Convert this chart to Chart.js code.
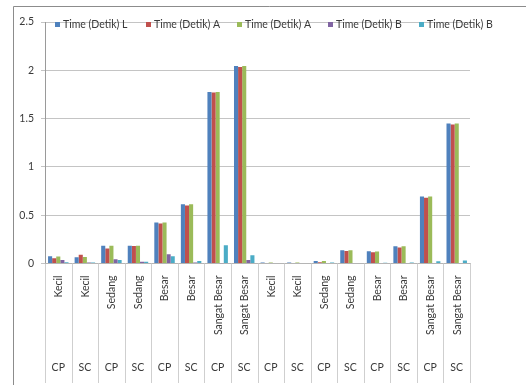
<!DOCTYPE html>
<html>
<head>
<meta charset="utf-8">
<script src="https://cdn.jsdelivr.net/npm/chart.js@4/dist/chart.umd.min.js"></script>
<style>
  html, body { margin: 0; padding: 0; background: #fff; }
  #wrap { width: 526px; height: 385px; }
</style>
</head>
<body>
<div id="wrap"><canvas id="c" width="526" height="385"></canvas></div>
<script>
// Size classes (first label level) and method (second label level)
const categories = ['Kecil', 'Kecil', 'Sedang', 'Sedang', 'Besar', 'Besar', 'Sangat Besar', 'Sangat Besar',
                    'Kecil', 'Kecil', 'Sedang', 'Sedang', 'Besar', 'Besar', 'Sangat Besar', 'Sangat Besar'];
const groups = ['CP', 'SC', 'CP', 'SC', 'CP', 'SC', 'CP', 'SC', 'CP', 'SC', 'CP', 'SC', 'CP', 'SC', 'CP', 'SC'];

const seriesNames = ['Time (Detik) L', 'Time (Detik) A', 'Time (Detik) A', 'Time (Detik) B', 'Time (Detik) B'];

const timeL  = [0.075, 0.065, 0.185, 0.185, 0.425, 0.613, 1.775, 2.045, 0.01, 0.01, 0.027, 0.137, 0.127, 0.179, 0.693, 1.448];
const timeA1 = [0.055, 0.09, 0.155, 0.18, 0.415, 0.60, 1.77, 2.035, 0.0, 0.0, 0.013, 0.13, 0.117, 0.166, 0.68, 1.44];
const timeA2 = [0.072, 0.068, 0.185, 0.185, 0.425, 0.613, 1.775, 2.045, 0.01, 0.01, 0.027, 0.137, 0.125, 0.179, 0.693, 1.448];
const timeB1 = [0.035, 0.01, 0.045, 0.018, 0.095, 0.01, 0.003, 0.035, 0, 0, 0, 0, 0, 0, 0, 0];
const timeB2 = [0.012, 0.01, 0.035, 0.018, 0.075, 0.025, 0.19, 0.085, 0, 0, 0.01, 0.005, 0.008, 0.01, 0.024, 0.03];

const yTicks = [0, 0.5, 1, 1.5, 2, 2.5];

const colors = ['#4F81BD', '#C0504D', '#9BBB59', '#8064A2', '#4BACC6'];
const FONT = 'Lato, "Open Sans", sans-serif';
const TEXT = '#3a3a3a';

const extras = {
  id: 'extras',
  beforeDraw(chart) {
    const ctx = chart.ctx;
    ctx.save();
    ctx.fillStyle = '#fff';
    ctx.fillRect(0, 0, chart.width, chart.height);
    ctx.restore();
  },
  afterDraw(chart) {
    const { ctx, chartArea, scales: { x } } = chart;
    const n = categories.length;
    const w = x.getPixelForValue(1) - x.getPixelForValue(0);
    ctx.save();

    // category separators running down through both label rows
    ctx.strokeStyle = '#cfcfcf';
    ctx.lineWidth = 1;
    for (let i = 0; i <= n; i++) {
      const px = Math.round(x.getPixelForValue(0) - w / 2 + i * w) + 0.5;
      ctx.beginPath();
      ctx.moveTo(px, chartArea.bottom);
      ctx.lineTo(px, 383);
      ctx.stroke();
    }

    // first level: rotated size labels
    ctx.fillStyle = TEXT;
    ctx.font = '10.5px ' + FONT;
    for (let i = 0; i < n; i++) {
      const cx = x.getPixelForValue(i);
      ctx.save();
      ctx.translate(cx + 0.5, chartArea.bottom + 12);
      ctx.rotate(-Math.PI / 2);
      ctx.textAlign = 'right';
      ctx.textBaseline = 'middle';
      ctx.fillText(categories[i], 0, 0);
      ctx.restore();
    }

    // second level: method labels
    ctx.textAlign = 'center';
    ctx.textBaseline = 'middle';
    for (let i = 0; i < n; i++) {
      ctx.fillText(groups[i], x.getPixelForValue(i), 368);
    }

    // legend row across the top of the plot
    ctx.textAlign = 'left';
    chart.data.datasets.forEach((ds, i) => {
      const lx = 55 + i * 91;
      ctx.fillStyle = ds.backgroundColor;
      ctx.fillRect(lx, 22, 5, 5);
      ctx.fillStyle = TEXT;
      ctx.fillText(ds.label, lx + 8, 24.5);
    });

    // outer chart frame
    ctx.strokeStyle = '#8c8c8c';
    ctx.beginPath();
    ctx.moveTo(13.5, 385);
    ctx.lineTo(13.5, 6.5);
    ctx.lineTo(526, 6.5);
    ctx.stroke();

    ctx.restore();
  }
};

const datasets = [timeL, timeA1, timeA2, timeB1, timeB2].map((vals, i) => ({
  label: seriesNames[i],
  data: vals,
  backgroundColor: colors[i],
  borderWidth: 0,
  categoryPercentage: 0.77,
  barPercentage: 1.0
}));

new Chart(document.getElementById('c'), {
  type: 'bar',
  data: { labels: categories.map((c, i) => c + ' ' + groups[i]), datasets },
  options: {
    responsive: false,
    animation: false,
    layout: { padding: { left: 0, top: 22, right: 56, bottom: 0 } },
    plugins: { legend: { display: false }, tooltip: { enabled: false } },
    scales: {
      x: {
        ticks: { display: false },
        grid: { display: false },
        border: { display: true, color: '#b5b5b5' },
        afterFit(s) { s.height = 385 - 263.5; }
      },
      y: {
        min: 0,
        max: 2.5,
        afterBuildTicks(s) { s.ticks = yTicks.map(v => ({ value: v })); },
        ticks: {
          color: TEXT,
          font: { family: FONT, size: 10.5 },
          padding: 7,
          callback: v => String(v)
        },
        grid: { color: '#c4c4c4', tickLength: 4 },
        border: { display: true, color: '#9a9a9a' },
        afterFit(s) { s.width = 45; }
      }
    }
  },
  plugins: [extras]
});
</script>
</body>
</html>
